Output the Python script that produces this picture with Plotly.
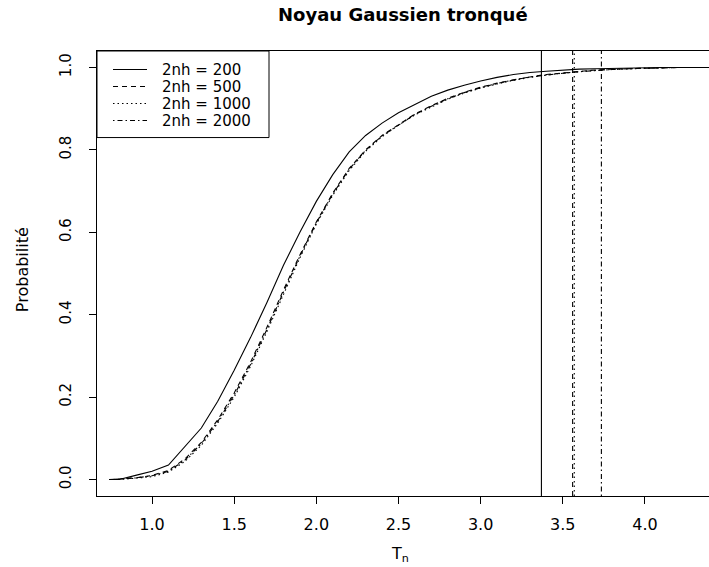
import plotly.graph_objects as go

# ---------------- data ----------------
t_grid = [0.74, 0.8, 0.9, 1.0, 1.1, 1.2, 1.3, 1.4, 1.5, 1.6, 1.7, 1.8, 1.9, 2.0,
          2.1, 2.2, 2.3, 2.4, 2.5, 2.6, 2.7, 2.8, 2.9, 3.0, 3.1, 3.2, 3.3,
          3.4, 3.5, 3.6, 3.7, 3.8, 3.9, 4.0, 4.1, 4.2, 4.39]

p_200 = [0.0, 0.0, 0.01, 0.02, 0.035, 0.08, 0.125, 0.19, 0.265, 0.345, 0.43, 0.52, 0.60, 0.675,
         0.74, 0.795, 0.835, 0.865, 0.89, 0.91, 0.93, 0.945, 0.957, 0.967, 0.976, 0.983, 0.988,
         0.991, 0.994, 0.996, 0.997, 0.998, 0.999, 0.999, 1.0, 1.0, 1.0]

p_500 = [0.0, 0.001, 0.004, 0.01, 0.022, 0.05, 0.09, 0.145, 0.21, 0.285, 0.37, 0.46, 0.545, 0.625,
         0.695, 0.755, 0.80, 0.835, 0.862, 0.887, 0.907, 0.925, 0.94, 0.952, 0.962, 0.970, 0.977,
         0.983, 0.987, 0.991, 0.994, 0.996, 0.997, 0.998, 0.999, 1.0, 1.0]

p_1000 = [0.0, 0.0, 0.003, 0.007, 0.018, 0.044, 0.083, 0.137, 0.2, 0.275, 0.36, 0.45, 0.538, 0.62,
          0.69, 0.75, 0.797, 0.832, 0.86, 0.885, 0.905, 0.923, 0.938, 0.95, 0.96, 0.969, 0.976,
          0.982, 0.986, 0.99, 0.993, 0.995, 0.997, 0.998, 0.999, 1.0, 1.0]

p_2000 = [0.0, 0.001, 0.004, 0.009, 0.02, 0.047, 0.087, 0.141, 0.205, 0.28, 0.365, 0.455, 0.542, 0.623,
          0.693, 0.753, 0.799, 0.834, 0.861, 0.886, 0.906, 0.924, 0.939, 0.951, 0.961, 0.97, 0.977,
          0.982, 0.986, 0.99, 0.993, 0.995, 0.997, 0.998, 0.999, 1.0, 1.0]

vlines = [3.37, 3.56, 3.57, 3.735]

labels = ["2nh = 200", "2nh = 500", "2nh = 1000", "2nh = 2000"]
dashes = ["solid", "5px,4px", "1.5px,3px", "1.5px,3px,5px,3px"]
series = [p_200, p_500, p_1000, p_2000]

x_ticks = [1.0, 1.5, 2.0, 2.5, 3.0, 3.5, 4.0]
x_ticktext = ["1.0", "1.5", "2.0", "2.5", "3.0", "3.5", "4.0"]
y_ticks = [0.0, 0.2, 0.4, 0.6, 0.8, 1.0]
y_ticktext = ["0.0", "0.2", "0.4", "0.6", "0.8", "1.0"]

FONT = "DejaVu Sans, Verdana, sans-serif"

# plot-area geometry in pixels
L, R, T, B = 97, 709, 51, 495.7
W, H = R - L, B - T


def px(xp):
    return (xp - L) / W


def py(yp):
    return (B - yp) / H


fig = go.Figure()
for lab, d, p in zip(labels, dashes, series):
    fig.add_trace(go.Scatter(x=t_grid, y=p, mode="lines", name=lab,
                             line=dict(color="black", width=1.1, dash=d),
                             showlegend=False, hoverinfo="skip"))

for v, d in zip(vlines, dashes):
    fig.add_vline(x=v, line=dict(color="black", width=1.1, dash=d))

# manual legend (R style)
fig.add_shape(type="rect", xref="paper", yref="paper",
              x0=px(97), x1=px(269), y0=py(51), y1=py(137.5),
              line=dict(color="black", width=1), fillcolor="white", layer="above")
row_y = [69.5, 86.5, 103.5, 120.5]
for lab, d, yy in zip(labels, dashes, row_y):
    fig.add_shape(type="line", xref="paper", yref="paper",
                  x0=px(113), x1=px(147), y0=py(yy), y1=py(yy),
                  line=dict(color="black", width=1.1, dash=d), layer="above")
    fig.add_annotation(text=lab, xref="paper", yref="paper",
                       x=px(160), y=py(yy), xanchor="left", yanchor="middle",
                       showarrow=False, font=dict(family=FONT, size=15))

fig.add_annotation(text="<b>Noyau Gaussien tronqué</b>", xref="paper", yref="paper",
                   x=0.5, y=py(15), xanchor="center", yanchor="middle",
                   showarrow=False, font=dict(family=FONT, size=18))
fig.add_annotation(text="T<sub>n</sub>", xref="paper", yref="paper",
                   x=px(400), y=py(554), xanchor="center", yanchor="middle",
                   showarrow=False, font=dict(family=FONT, size=16))
fig.add_annotation(text="Probabilité", xref="paper", yref="paper",
                   x=px(22), y=py(270), xanchor="center", yanchor="middle",
                   textangle=-90, showarrow=False, font=dict(family=FONT, size=16))

fig.update_layout(
    width=709, height=567,
    margin=dict(l=L, r=709 - R, t=T, b=567 - B),
    paper_bgcolor="white", plot_bgcolor="white",
    font=dict(family=FONT, size=16, color="black"),
    showlegend=False,
    hovermode=False,
)

fig.update_xaxes(range=[0.665, 4.39], tickvals=x_ticks, ticktext=x_ticktext,
                 ticks="outside", ticklen=7, tickcolor="black", tickwidth=1,
                 tickfont=dict(family=FONT, size=16),
                 showline=True, linecolor="black", linewidth=1, mirror=True,
                 showgrid=False, zeroline=False, ticklabelstandoff=7)
fig.update_yaxes(range=[-0.04, 1.04], tickvals=y_ticks, ticktext=y_ticktext,
                 ticks="outside", ticklen=7, tickcolor="black", tickwidth=1,
                 tickfont=dict(family=FONT, size=15),
                 showline=True, linecolor="black", linewidth=1, mirror=False,
                 showgrid=False, zeroline=False, tickangle=-90, ticklabelstandoff=12)

fig.write_html("out.html", config={"displayModeBar": False},
               post_script="document.body.style.margin='0px';document.body.style.overflow='hidden';")
